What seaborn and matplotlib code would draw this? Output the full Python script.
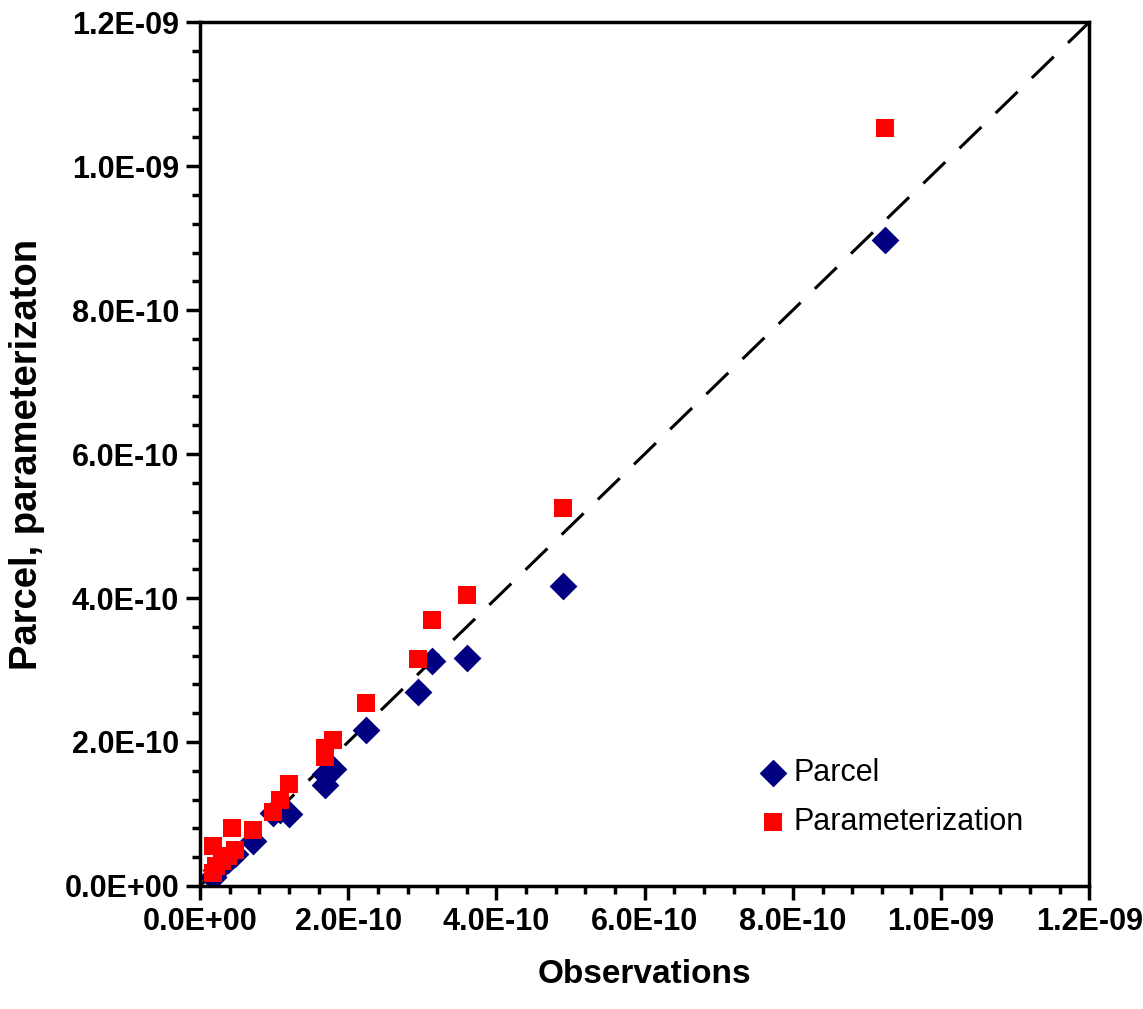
import pandas as pd
import matplotlib.pyplot as plt
import seaborn as sns
import numpy as np

sns.set_style("ticks", {'axes.edgecolor': 'black', 'text.color': 'black',
                        'axes.labelcolor': 'black', 'xtick.color': 'black',
                        'ytick.color': 'black'})
plt.rcParams['font.family'] = ['Liberation Sans', 'DejaVu Sans']

# observed values and the two model estimates (units of 1E-10)
obs = [9.24, 4.90, 3.60, 3.13, 2.94, 2.24, 1.80, 1.68, 1.69, 1.20, 0.99, 1.08,
       0.71, 0.47, 0.43, 0.38, 0.30, 0.22, 0.18, 0.18]
parcel = [8.97, 4.17, 3.16, 3.12, 2.70, 2.17, 1.62, 1.40, 1.55, 1.00, 1.01, 1.06,
          0.62, 0.45, 0.41, 0.36, 0.29, 0.22, 0.13, 0.12]
param = [10.53, 5.25, 4.04, 3.69, 3.15, 2.54, 2.03, 1.79, 1.92, 1.42, 1.02, 1.20,
         0.77, 0.50, 0.80, 0.41, 0.34, 0.27, 0.55, 0.18]
tick_labels = ['0.0E+00', '2.0E-10', '4.0E-10', '6.0E-10', '8.0E-10', '1.0E-09', '1.2E-09']

df = pd.DataFrame({'Observations': np.array(obs) * 1e-10,
                   'Parcel': np.array(parcel) * 1e-10,
                   'Parameterization': np.array(param) * 1e-10})

fig = plt.figure(figsize=(11.43, 10.09), dpi=100)
ax = fig.add_axes([0.175, 0.122, 0.778, 0.856])

# 1:1 line
ax.plot([0, 1.2e-9], [0, 1.2e-9], color='black', lw=2.2, dashes=(10, 6.5), zorder=1)

sns.scatterplot(data=df, x='Observations', y='Parcel', marker='D', s=200,
                color='#000080', linewidth=0, ax=ax, label='Parcel', zorder=2)
sns.scatterplot(data=df, x='Observations', y='Parameterization', marker='s', s=185,
                color='#FF0000', linewidth=0, ax=ax, label='Parameterization', zorder=3)

ax.set_xlim(0, 1.2e-9)
ax.set_ylim(0, 1.2e-9)
ticks = np.arange(0, 1.21e-9, 2e-10)
ax.set_xticks(ticks)
ax.set_yticks(ticks)
ax.set_xticks(np.arange(0, 1.21e-9, 4e-11), minor=True)
ax.set_yticks(np.arange(0, 1.21e-9, 4e-11), minor=True)
ax.set_xticklabels(tick_labels, fontsize=22, fontweight='bold')
ax.set_yticklabels(tick_labels, fontsize=22, fontweight='bold')
ax.tick_params(which='major', direction='out', length=10, width=2.5, pad=5)
ax.tick_params(which='minor', direction='out', length=6, width=2.5)
for sp in ax.spines.values():
    sp.set_linewidth(2.5)
    sp.set_visible(True)

ax.set_xlabel('Observations', fontsize=24, fontweight='bold', labelpad=16)
ax.set_ylabel('Parcel, parameterizaton', fontsize=27.5, fontweight='bold', labelpad=14)

ax.legend(loc='lower left', bbox_to_anchor=(0.606, 0.043), frameon=False,
          fontsize=22, handletextpad=0.0, handlelength=1.4, labelspacing=0.6,
          borderaxespad=0)

fig.savefig('out.png', dpi=100)
